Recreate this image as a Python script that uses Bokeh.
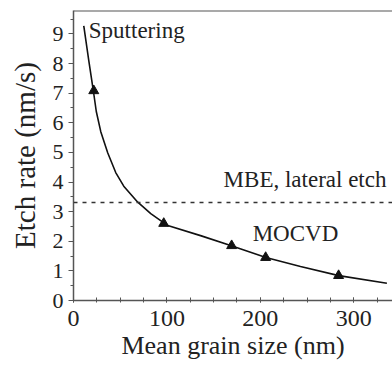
from bokeh.plotting import figure
from bokeh.models import Span, Range1d, FixedTicker
from bokeh.core.properties import value
from bokeh.embed import file_html
from bokeh.resources import INLINE

# Data
curve_x = [11, 16.4, 21.7, 24.4, 29.2, 36.7, 45.2, 53.8, 68.8, 82.7, 100.9, 136, 169, 206, 243, 284, 335.5]
curve_y = [9.27, 8.09, 6.98, 6.38, 5.7, 4.98, 4.32, 3.86, 3.32, 2.93, 2.53, 2.19, 1.85, 1.45, 1.15, 0.84, 0.58]
pts_x = [21.7, 96.6, 169.3, 205.7, 283.8]
pts_y = [7.08, 2.6, 1.85, 1.45, 0.84]
mbe_level = 3.31
x_ticks = [0, 100, 200, 300]
y_ticks = [0, 1, 2, 3, 4, 5, 6, 7, 8, 9]
labels_text = ["Sputtering", "MBE, lateral etch", "MOCVD"]
labels_x = [16.4, 160.7, 191.8]
labels_y = [9.1, 4.07, 2.25]
x_label = "Mean grain size (nm)"
y_label = "Etch rate (nm/s)"

FONT = "Liberation Serif"
INK = "#222222"
AXC = "#555555"

p = figure(frame_width=319, frame_height=290, output_backend="svg", toolbar_location=None,
           x_range=Range1d(0, 341.5), y_range=Range1d(0, 9.79),
           min_border_left=73, min_border_right=0, min_border_top=10, min_border_bottom=60)
p.outline_line_color = None
p.xgrid.visible = False
p.ygrid.visible = False
p.background_fill_color = "white"

# x axis
xa = p.xaxis[0]
xa.ticker = FixedTicker(ticks=x_ticks, minor_ticks=[t * 25 for t in range(0, 14)])
xa.axis_label = x_label
xa.axis_label_text_font = FONT
xa.axis_label_text_font_style = "normal"
xa.axis_label_text_font_size = "26px"
xa.axis_label_text_color = INK
xa.axis_label_standoff = 2
xa.major_label_text_font = FONT
xa.major_label_text_font_style = "normal"
xa.major_label_text_font_size = "24px"
xa.major_label_text_color = INK
xa.major_label_standoff = 8
xa.axis_line_color = AXC
xa.axis_line_width = 1.5
xa.major_tick_line_color = AXC
xa.minor_tick_line_color = AXC
xa.major_tick_in = 3
xa.major_tick_out = 2
xa.minor_tick_in = 3
xa.minor_tick_out = 2

# y axis
ya = p.yaxis[0]
ya.ticker = FixedTicker(ticks=y_ticks, minor_ticks=[t * 0.5 for t in range(0, 20)])
ya.axis_label = y_label
ya.axis_label_text_font = FONT
ya.axis_label_text_font_style = "normal"
ya.axis_label_text_font_size = "29px"
ya.axis_label_text_color = INK
ya.axis_label_standoff = 9
ya.major_label_text_font = FONT
ya.major_label_text_font_style = "normal"
ya.major_label_text_font_size = "22px"
ya.major_label_text_color = INK
ya.major_label_standoff = 5
ya.axis_line_color = AXC
ya.axis_line_width = 1.5
ya.major_tick_line_color = AXC
ya.minor_tick_line_color = AXC
ya.major_tick_in = 0
ya.major_tick_out = 5
ya.minor_tick_in = 0
ya.minor_tick_out = 3

# top border
p.add_layout(Span(location=9.79, dimension="width", line_color=AXC, line_width=2))

# MBE dashed level
p.add_layout(Span(location=mbe_level, dimension="width", line_color="#333333",
                  line_width=1.5, line_dash="4 5"))

p.line(curve_x, curve_y, line_color="#111111", line_width=1.6)
p.scatter(pts_x, pts_y, marker="triangle", size=10, fill_color="#111111", line_color="#111111")

p.text(x=labels_x, y=labels_y, text=labels_text, text_font=value(FONT),
       text_font_style="normal", text_font_size="23px", text_color=INK,
       text_baseline="middle", text_align="left")

open("out.html", "w").write(file_html(p, INLINE))
